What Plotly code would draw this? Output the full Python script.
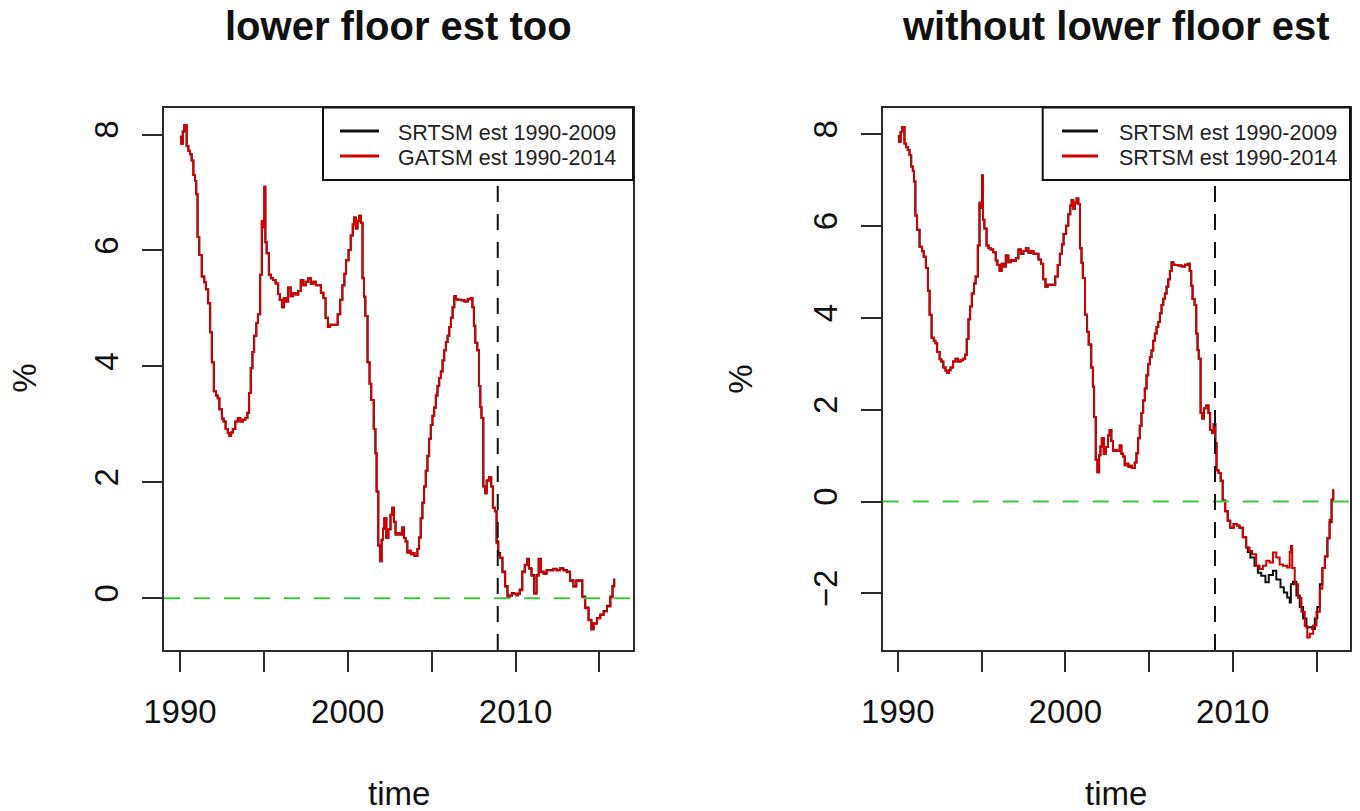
import plotly.graph_objects as go

# ---- data -------------------------------------------------------------
# common history 1990-2008 (both estimations coincide while rates are well above the floor)
hist_t = [1990.00, 1990.08, 1990.17, 1990.26, 1990.40, 1990.50, 1990.60, 1990.70, 1990.80, 1990.90,
          1990.97, 1991.05, 1991.15, 1991.30, 1991.45, 1991.55, 1991.68, 1991.80, 1991.90, 1992.02,
          1992.15, 1992.25, 1992.35, 1992.50, 1992.60, 1992.72, 1992.85, 1992.95, 1993.05, 1993.15,
          1993.30, 1993.45, 1993.60, 1993.75, 1993.90, 1994.02, 1994.12, 1994.22, 1994.32, 1994.42,
          1994.55, 1994.65, 1994.78, 1994.88, 1994.97, 1995.03, 1995.09, 1995.17, 1995.30, 1995.42,
          1995.55, 1995.70, 1995.85, 1995.95, 1996.08, 1996.20, 1996.32, 1996.45, 1996.60, 1996.75,
          1996.90, 1997.05, 1997.20, 1997.35, 1997.50, 1997.65, 1997.80, 1997.95, 1998.10, 1998.25,
          1998.40, 1998.55, 1998.68, 1998.82, 1998.95, 1999.10, 1999.25, 1999.40, 1999.55, 1999.68,
          1999.80, 1999.90, 2000.05, 2000.18, 2000.30, 2000.38, 2000.48, 2000.58, 2000.68, 2000.78,
          2000.88, 2000.97, 2001.05, 2001.18, 2001.30, 2001.40, 2001.55, 2001.65, 2001.72, 2001.82,
          2001.92, 2002.02, 2002.10, 2002.18, 2002.30, 2002.42, 2002.55, 2002.65, 2002.75, 2002.85,
          2002.98, 2003.10, 2003.25, 2003.35, 2003.45, 2003.55, 2003.65, 2003.77, 2003.90, 2003.98,
          2004.15, 2004.25, 2004.35, 2004.45, 2004.55, 2004.65, 2004.75, 2004.85, 2004.95, 2005.05,
          2005.15, 2005.25, 2005.35, 2005.45, 2005.55, 2005.65, 2005.75, 2005.85, 2005.95, 2006.05,
          2006.15, 2006.25, 2006.35, 2006.45, 2006.55, 2006.75, 2006.95, 2007.15, 2007.32, 2007.43,
          2007.52, 2007.60, 2007.72, 2007.82, 2007.90, 2007.97, 2008.08, 2008.18, 2008.28, 2008.42,
          2008.55, 2008.65, 2008.77]
hist_v = [7.96, 7.84, 8.05, 8.16, 7.80, 7.72, 7.66, 7.55, 7.30, 7.20,
          6.97, 6.23, 5.92, 5.55, 5.45, 5.33, 5.09, 4.59, 4.07, 3.57,
          3.50, 3.45, 3.26, 3.10, 3.05, 2.92, 2.85, 2.80, 2.86, 2.92,
          3.05, 3.11, 3.05, 3.08, 3.11, 3.20, 3.54, 3.97, 4.25, 4.53,
          4.75, 4.90, 5.58, 6.51, 6.40, 7.10, 6.14, 5.95, 5.58, 5.52,
          5.49, 5.43, 5.25, 5.15, 5.02, 5.18, 5.12, 5.36, 5.21, 5.26,
          5.24, 5.30, 5.49, 5.40, 5.46, 5.52, 5.42, 5.46, 5.40, 5.40,
          5.27, 5.18, 4.84, 4.68, 4.72, 4.72, 4.72, 4.90, 5.15, 5.40,
          5.60, 5.83, 6.01, 6.26, 6.45, 6.57, 6.38, 6.51, 6.60, 6.48,
          5.52, 5.20, 4.87, 4.07, 3.70, 3.42, 2.92, 2.50, 1.84, 0.91,
          0.64, 1.01, 1.20, 1.38, 1.04, 1.19, 1.44, 1.56, 1.32, 1.10,
          1.12, 1.10, 1.22, 1.04, 0.98, 0.79, 0.82, 0.76, 0.78, 0.73,
          0.85, 1.05, 1.38, 1.65, 1.93, 2.20, 2.46, 2.75, 2.99, 3.15,
          3.29, 3.50, 3.66, 3.80, 3.91, 4.10, 4.28, 4.42, 4.53, 4.68,
          4.84, 5.02, 5.21, 5.16, 5.15, 5.14, 5.12, 5.16, 5.18, 5.02,
          4.70, 4.41, 4.28, 3.66, 3.30, 3.11, 1.93, 1.81, 2.03, 2.09,
          1.93, 1.56, 1.50]

# left panel, after 2008: GATSM 1990-2014 (red) and SRTSM 1990-2009 (black)
gatsm_t = [2008.87, 2008.97, 2009.08, 2009.22, 2009.38, 2009.52, 2009.65, 2009.78, 2009.92, 2010.05,
           2010.15, 2010.25, 2010.40, 2010.55, 2010.70, 2010.80, 2010.95, 2011.10, 2011.25, 2011.38,
           2011.52, 2011.68, 2011.85, 2012.05, 2012.25, 2012.45, 2012.65, 2012.85, 2013.05, 2013.25,
           2013.45, 2013.62, 2013.85, 2013.98, 2014.15, 2014.35, 2014.52, 2014.65, 2014.85, 2015.05,
           2015.25, 2015.45, 2015.65, 2015.78, 2015.88]
gatsm_v = [0.95, 0.76, 0.70, 0.45, 0.20, 0.02, 0.05, 0.08, 0.08, 0.05,
           0.08, 0.14, 0.45, 0.57, 0.67, 0.51, 0.39, 0.08, 0.39, 0.67,
           0.45, 0.42, 0.48, 0.48, 0.50, 0.48, 0.51, 0.48, 0.45, 0.30,
           0.20, 0.30, 0.30, 0.02, -0.17, -0.38, -0.54, -0.44, -0.35, -0.29,
           -0.23, -0.14, 0.02, 0.20, 0.33]
srtsm09_floor_t = [2008.87, 2008.97, 2009.08, 2009.22, 2009.38, 2009.52, 2009.65, 2009.78, 2009.92, 2010.05,
                   2010.15, 2010.25, 2010.40, 2010.55, 2010.70, 2010.80, 2010.95, 2011.10, 2011.25, 2011.38,
                   2011.52, 2011.68, 2011.85, 2012.05, 2012.25, 2012.45, 2012.65, 2012.85, 2013.05, 2013.25,
                   2013.45, 2013.62, 2013.85, 2013.98, 2014.15, 2014.35, 2014.52, 2014.65, 2014.85, 2015.05,
                   2015.25, 2015.45, 2015.65, 2015.78, 2015.88]
srtsm09_floor_v = [0.98, 0.78, 0.70, 0.46, 0.21, 0.03, 0.05, 0.09, 0.08, 0.06,
                   0.08, 0.15, 0.46, 0.58, 0.68, 0.52, 0.40, 0.09, 0.40, 0.68,
                   0.46, 0.43, 0.49, 0.49, 0.51, 0.49, 0.52, 0.49, 0.46, 0.31,
                   0.21, 0.31, 0.31, 0.03, -0.16, -0.37, -0.53, -0.43, -0.34, -0.28,
                   -0.22, -0.13, 0.03, 0.21, 0.34]

# right panel, after 2008: SRTSM 1990-2014 (red) and SRTSM 1990-2009 (black)
srtsm14_t = [2008.86, 2008.96, 2009.03, 2009.15, 2009.28, 2009.40, 2009.55, 2009.70, 2009.85, 2010.05,
             2010.25, 2010.40, 2010.60, 2010.80, 2011.00, 2011.15, 2011.40, 2011.60, 2011.80, 2012.00,
             2012.20, 2012.40, 2012.60, 2012.80, 2013.00, 2013.25, 2013.40, 2013.47, 2013.55, 2013.70,
             2013.90, 2014.10, 2014.30, 2014.45, 2014.60, 2014.80, 2015.00, 2015.20, 2015.35, 2015.50,
             2015.65, 2015.78, 2015.90, 2016.00]
srtsm14_v = [1.69, 1.27, 0.68, 0.62, 0.45, 0.02, -0.21, -0.42, -0.57, -0.49,
             -0.52, -0.57, -0.78, -1.00, -1.08, -1.15, -1.40, -1.47, -1.40, -1.29,
             -1.33, -1.11, -1.22, -1.37, -1.40, -1.44, -1.10, -0.97, -1.45, -1.80,
             -2.10, -2.40, -2.71, -2.96, -2.88, -2.70, -2.40, -1.90, -1.45, -1.20,
             -0.80, -0.40, 0.05, 0.27]
srtsm09_t = [2008.86, 2008.96, 2009.03, 2009.15, 2009.28, 2009.40, 2009.55, 2009.70, 2009.85, 2010.05,
             2010.25, 2010.40, 2010.60, 2010.80, 2010.90, 2011.05, 2011.30, 2011.50, 2011.70, 2011.95,
             2012.15, 2012.40, 2012.60, 2012.85, 2013.05, 2013.25, 2013.40, 2013.47, 2013.60, 2013.80,
             2014.00, 2014.20, 2014.40, 2014.60, 2014.75, 2014.90, 2015.05, 2015.20, 2015.35, 2015.50,
             2015.65, 2015.78, 2015.90, 2016.00]
srtsm09_v = [1.69, 1.27, 0.68, 0.62, 0.45, 0.02, -0.21, -0.42, -0.57, -0.49,
             -0.52, -0.57, -0.78, -1.00, -1.10, -1.22, -1.40, -1.55, -1.62, -1.76,
             -1.60, -1.51, -1.70, -1.87, -1.98, -2.09, -2.20, -1.80, -1.75, -2.05,
             -2.30, -2.55, -2.74, -2.74, -2.78, -2.55, -2.30, -1.80, -1.45, -1.20,
             -0.80, -0.45, 0.02, 0.25]

break_year = 2008.94
titles = ["lower floor est too", "without lower floor est"]
legend_left = ["SRTSM est 1990-2009", "GATSM est 1990-2014"]
legend_right = ["SRTSM est 1990-2009", "SRTSM est 1990-2014"]
x_ticks = [1990, 1995, 2000, 2005, 2010, 2015]
x_ticktext = ["1990", "", "2000", "", "2010", ""]

# ---- styling ----------------------------------------------------------
W, H = 1360, 811
FONT = "Liberation Sans, Arial, sans-serif"
RED = "#d40000"
BLACK = "#111111"
GREEN = "#3cc83c"
AXIS = "#2a2a2a"


def fx(p):
    return p / W


def fy(p):
    return 1 - p / H


panels = [
    dict(x0=164, x1=633, xr=[1989.05, 2017.0], yr=[-0.892, 8.466], yt=[0, 2, 4, 6, 8],
         black=(hist_t + srtsm09_floor_t, hist_v + srtsm09_floor_v),
         red=(hist_t + gatsm_t, hist_v + gatsm_v),
         legend=legend_left, leg_x0=323, line_x=(340, 379), text_x=396, ylab_x=25),
    dict(x0=882.7, x1=1350, xr=[1989.1, 2017.0], yr=[-3.235, 8.584], yt=[-2, 0, 2, 4, 6, 8],
         black=(hist_t + srtsm09_t, hist_v + srtsm09_v),
         red=(hist_t + srtsm14_t, hist_v + srtsm14_v),
         legend=legend_right, leg_x0=1042.7, line_x=(1062, 1098), text_x=1117, ylab_x=741),
]
TOP, BOT = 107.5, 650

fig = go.Figure()
shapes, annotations = [], []

for i, p in enumerate(panels):
    sfx = "" if i == 0 else str(i + 1)
    xa, ya = "x" + sfx, "y" + sfx
    fig.add_trace(go.Scatter(x=p["black"][0], y=p["black"][1], mode="lines",
                             line=dict(color=BLACK, width=2, shape="hv"),
                             xaxis=xa, yaxis=ya, showlegend=False))
    fig.add_trace(go.Scatter(x=p["red"][0], y=p["red"][1], mode="lines",
                             line=dict(color=RED, width=2, shape="hv"),
                             xaxis=xa, yaxis=ya, showlegend=False))

    axis_common = dict(showline=True, mirror=True, linecolor=AXIS, linewidth=2,
                       ticks="outside", ticklen=20, tickwidth=2, tickcolor=AXIS,
                       showgrid=False, zeroline=False, automargin=False,
                       tickfont=dict(family=FONT, size=33, color="#111"))
    fig.update_layout({
        "xaxis" + sfx: dict(axis_common, domain=[fx(p["x0"]), fx(p["x1"])], range=p["xr"],
                            tickvals=x_ticks, ticktext=x_ticktext, anchor=ya,
                            ticklabelstandoff=11),
        "yaxis" + sfx: dict(axis_common, domain=[fy(BOT), fy(TOP)], range=p["yr"],
                            tickvals=p["yt"], tickangle=-90, anchor=xa,
                            ticklabelstandoff=11),
    })

    # reference lines
    shapes.append(dict(type="line", xref=xa + " domain", yref=ya, x0=0, x1=1, y0=0, y1=0,
                       line=dict(color=GREEN, width=2, dash="16px,14px"), layer="above"))
    shapes.append(dict(type="line", xref=xa, yref=ya + " domain", x0=break_year, x1=break_year,
                       y0=0, y1=1, line=dict(color=BLACK, width=2, dash="16px,12px"), layer="above"))

    # legend box
    shapes.append(dict(type="rect", xref="paper", yref="paper",
                       x0=fx(p["leg_x0"]), x1=fx(p["x1"]), y0=fy(180), y1=fy(TOP),
                       fillcolor="white", line=dict(color=BLACK, width=2), layer="above"))
    for row, (col, label) in enumerate(zip([BLACK, RED], p["legend"])):
        ly = 131 + 25 * row
        shapes.append(dict(type="line", xref="paper", yref="paper",
                           x0=fx(p["line_x"][0]), x1=fx(p["line_x"][1]), y0=fy(ly), y1=fy(ly),
                           line=dict(color=col, width=3), layer="above"))
        annotations.append(dict(text=label, xref="paper", yref="paper", x=fx(p["text_x"]),
                                y=fy(ly + 2), xanchor="left", yanchor="middle", showarrow=False,
                                font=dict(family=FONT, size=21.5, color="#222")))

    # titles and axis labels
    cx = (p["x0"] + p["x1"]) / 2
    annotations.append(dict(text="<b>%s</b>" % titles[i], xref="paper", yref="paper",
                            x=fx(cx), y=fy(26), xanchor="center", yanchor="middle",
                            showarrow=False, font=dict(family=FONT, size=40, color="#111")))
    annotations.append(dict(text="time", xref="paper", yref="paper", x=fx(cx), y=fy(793),
                            xanchor="center", yanchor="middle", showarrow=False,
                            font=dict(family=FONT, size=33, color="#111")))
    annotations.append(dict(text="%", xref="paper", yref="paper", x=fx(p["ylab_x"]),
                            y=fy((TOP + BOT) / 2), xanchor="center", yanchor="middle",
                            textangle=-90, showarrow=False,
                            font=dict(family=FONT, size=33, color="#111")))

fig.update_layout(width=W, height=H, autosize=False, margin=dict(l=0, r=0, t=0, b=0),
                  paper_bgcolor="white", plot_bgcolor="white",
                  shapes=shapes, annotations=annotations, showlegend=False)

fig.write_html("out.html")
